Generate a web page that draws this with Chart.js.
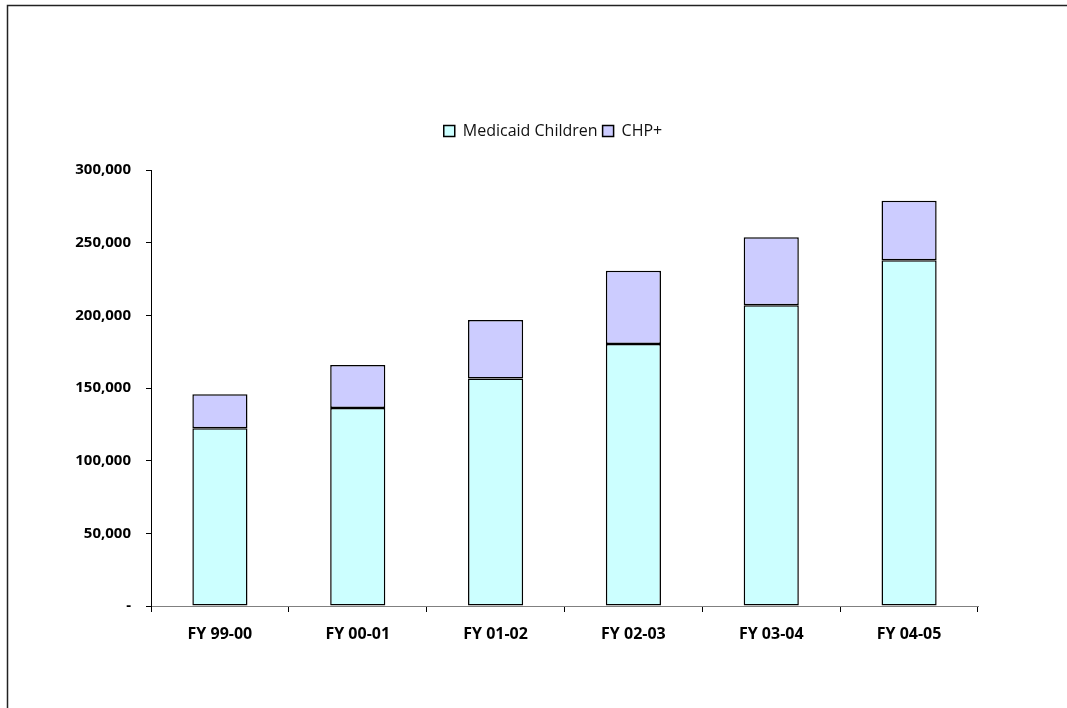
<!DOCTYPE html>
<html>
<head>
<meta charset="utf-8">
<script src="https://cdn.jsdelivr.net/npm/chart.js@4"></script>
<style>
  html, body { margin: 0; padding: 0; background: #fff; overflow: hidden; }
  #wrap { width: 1067px; height: 708px; position: relative; }
</style>
</head>
<body>
<div id="wrap"><canvas id="enrollChart" width="1067" height="708"></canvas></div>
<script>
// datos
const fiscalYears = ['FY 99-00', 'FY 00-01', 'FY 01-02', 'FY 02-03', 'FY 03-04', 'FY 04-05'];
const medicaidChildren = [122300, 136200, 156600, 180300, 206900, 237900];
const chpPlus = [23400, 29600, 40200, 50400, 46800, 41000];
const yTicks = [0, 50000, 100000, 150000, 200000, 250000, 300000];

const FONT = '"Open Sans", Lato, sans-serif';

// marco exterior y fondo blanco
const framePlugin = {
    id: 'frame',
    beforeDraw: (chart) => {
        const ctx = chart.ctx;
        ctx.save();
        ctx.fillStyle = '#fff';
        ctx.fillRect(0, 0, chart.width, chart.height);
        ctx.strokeStyle = '#222';
        ctx.lineWidth = 1.5;
        ctx.strokeRect(7.5, 5.5, chart.width + 20, chart.height + 20);
        ctx.restore();
    }
};

const ctx = document.getElementById('enrollChart').getContext('2d');
new Chart(ctx, {
    type: 'bar',
    data: {
        labels: fiscalYears,
        datasets: [
            {
                label: 'Medicaid Children',
                data: medicaidChildren,
                backgroundColor: '#CCFFFF',
                borderColor: '#000',
                borderWidth: 1.5,
                borderSkipped: false
            },
            {
                label: 'CHP+',
                data: chpPlus,
                backgroundColor: '#CCCCFF',
                borderColor: '#000',
                borderWidth: 1.5,
                borderSkipped: false
            }
        ]
    },
    options: {
        responsive: false,
        animation: false,
        devicePixelRatio: 1,
        layout: { padding: { top: 118, left: 45, right: 6, bottom: 0 } },
        datasets: { bar: { barPercentage: 0.4, categoryPercentage: 1 } },
        plugins: {
            legend: {
                position: 'top',
                labels: {
                    boxWidth: 11,
                    boxHeight: 11,
                    padding: 5,
                    color: '#111',
                    font: { family: '"Open Sans", sans-serif', size: 16 }
                }
            },
            tooltip: { enabled: false }
        },
        scales: {
            x: {
                stacked: true,
                grid: { drawOnChartArea: false, color: '#000', tickLength: 6, offset: true },
                border: { color: '#808080', width: 1 },
                ticks: {
                    color: '#000',
                    padding: 13,
                    maxRotation: 0,
                    font: { family: FONT, size: 16, weight: 'bold' }
                },
                afterFit: (scale) => { scale.height = 102; }
            },
            xTop: {
                type: 'category',
                position: 'top',
                display: true,
                grid: { display: false },
                border: { display: false },
                ticks: { display: false },
                afterFit: (scale) => { scale.height = 21; }
            },
            y: {
                stacked: true,
                min: 0,
                max: 300000,
                afterBuildTicks: (scale) => { scale.ticks = yTicks.map(v => ({ value: v })); },
                grid: { drawOnChartArea: false, color: '#000', tickLength: 5 },
                border: { color: '#000', width: 1 },
                ticks: {
                    color: '#000',
                    padding: 15,
                    font: { family: FONT, size: 15, weight: 'bold' },
                    callback: (v) => v === 0 ? '-' : v.toLocaleString('en-US')
                },
                afterFit: (scale) => { scale.width = 106; }
            },
            yRight: {
                type: 'linear',
                position: 'right',
                display: true,
                grid: { display: false },
                border: { display: false },
                ticks: { display: false },
                afterFit: (scale) => { scale.width = 83; }
            }
        }
    },
    plugins: [framePlugin]
});
</script>
</body>
</html>
